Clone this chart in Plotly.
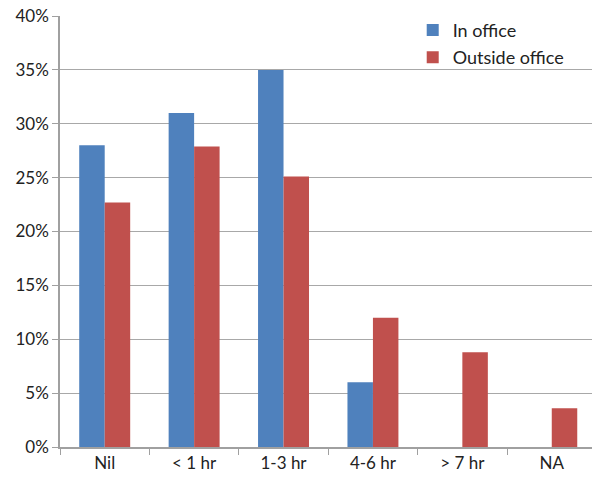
import plotly.graph_objects as go

categories = ["Nil", "< 1 hr", "1-3 hr", "4-6 hr", "> 7 hr", "NA"]
in_office = [28, 31, 35, 6, None, None]
outside_office = [22.7, 27.9, 25.1, 12.0, 8.8, 3.6]
y_ticks = [0, 5, 10, 15, 20, 25, 30, 35, 40]
y_tick_labels = [f"{v}%" for v in y_ticks]

fig = go.Figure()
fig.add_trace(go.Bar(name="In office", x=categories, y=in_office,
                     legendgroup="a",
                     marker=dict(color="#4F81BD", line=dict(width=0))))
fig.add_trace(go.Bar(name="Outside office", x=categories, y=outside_office,
                     legendgroup="b",
                     marker=dict(color="#C0504D", line=dict(width=0))))

fig.update_layout(
    width=592, height=477,
    margin=dict(l=60, r=0, t=16, b=30),
    paper_bgcolor="white", plot_bgcolor="white",
    barmode="group", bargap=0.43, bargroupgap=0,
    font=dict(family="Lato, Open Sans, sans-serif", size=17, color="#222"),
    showlegend=True,
    legend=dict(x=0.663, y=1.01, xanchor="left", yanchor="top",
                bgcolor="rgba(255,255,255,0)", font=dict(size=18), itemwidth=30,
                tracegroupgap=1, traceorder="grouped"),
    xaxis=dict(range=[-0.5, 5.45], showline=True, linecolor="#A0A0A0", linewidth=1.5,
               ticks="outside", ticklen=6, tickcolor="#A0A0A0",
               tickson="boundaries", showgrid=False),
    yaxis=dict(range=[0, 40], tickvals=y_ticks, ticktext=y_tick_labels,
               showline=True, linecolor="#A0A0A0", linewidth=1.5,
               showgrid=True, gridcolor="#A8A8A8", gridwidth=1,
               ticks="outside", ticklen=6, tickcolor="#A0A0A0",
               zeroline=False),
)

fig.write_html("out.html")
